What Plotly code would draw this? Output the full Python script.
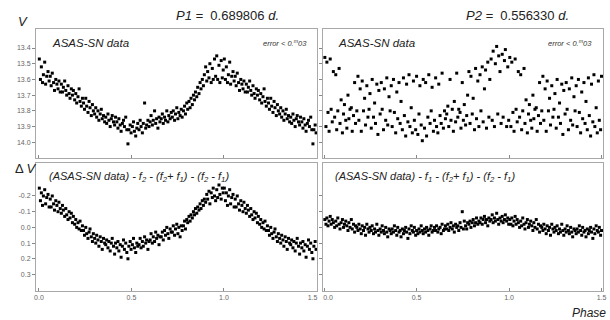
import plotly.graph_objects as go

# ---------------- data ----------------
# phases folded with P1 (observations shared by top-left and bottom-left panels)
phase_p1 = [
    0.002, 0.008, 0.013, 0.019, 0.024, 0.031, 0.036, 0.042, 0.049, 0.055,
    0.061, 0.066, 0.072, 0.079, 0.084, 0.091, 0.097, 0.103, 0.108, 0.115,
    0.121, 0.127, 0.132, 0.139, 0.145, 0.150, 0.157, 0.163, 0.168, 0.175,
    0.181, 0.186, 0.193, 0.199, 0.204, 0.211, 0.217, 0.222, 0.229, 0.235,
    0.241, 0.246, 0.253, 0.258, 0.265, 0.271, 0.276, 0.283, 0.289, 0.294,
    0.301, 0.307, 0.312, 0.319, 0.324, 0.331, 0.337, 0.342, 0.349, 0.355,
    0.361, 0.366, 0.373, 0.378, 0.385, 0.391, 0.396, 0.403, 0.409, 0.414,
    0.421, 0.427, 0.432, 0.439, 0.444, 0.451, 0.457, 0.462, 0.469, 0.475,
    0.481, 0.486, 0.493, 0.498, 0.505, 0.511, 0.516, 0.523, 0.529, 0.534,
    0.541, 0.547, 0.552, 0.559, 0.564, 0.571, 0.577, 0.582, 0.589, 0.595,
    0.601, 0.606, 0.613, 0.618, 0.625, 0.631, 0.636, 0.643, 0.649, 0.654,
    0.661, 0.667, 0.672, 0.679, 0.684, 0.691, 0.697, 0.702, 0.709, 0.715,
    0.721, 0.726, 0.733, 0.738, 0.745, 0.751, 0.756, 0.763, 0.769, 0.774,
    0.781, 0.787, 0.792, 0.799, 0.804, 0.811, 0.817, 0.822, 0.829, 0.835,
    0.841, 0.846, 0.853, 0.858, 0.865, 0.871, 0.876, 0.883, 0.889, 0.894,
    0.901, 0.907, 0.912, 0.919, 0.924, 0.931, 0.937, 0.942, 0.949, 0.955,
    0.961, 0.966, 0.973, 0.978, 0.985, 0.991, 0.996,
]
v_p1 = [
    13.47, 13.60, 13.52, 13.62, 13.57, 13.49, 13.63, 13.58, 13.55, 13.61,
    13.58, 13.64, 13.56, 13.62, 13.67, 13.60, 13.63, 13.66, 13.61, 13.68,
    13.63, 13.68, 13.65, 13.61, 13.67, 13.70, 13.64, 13.69, 13.72, 13.66,
    13.70, 13.67, 13.73, 13.69, 13.75, 13.71, 13.66, 13.74, 13.77, 13.72,
    13.75, 13.79, 13.72, 13.77, 13.81, 13.74, 13.78, 13.83, 13.76, 13.80,
    13.82, 13.78, 13.84, 13.80, 13.86, 13.82, 13.79, 13.85, 13.83, 13.87,
    13.84, 13.88, 13.82, 13.86, 13.90, 13.85, 13.83, 13.87, 13.89, 13.84,
    13.87, 13.91, 13.85, 13.89, 13.93, 13.88, 13.86, 13.90, 13.84, 13.92,
    14.01, 13.92, 13.89, 13.94, 13.90, 13.87, 13.93, 13.96, 13.91, 13.88,
    13.92, 13.86, 13.90, 13.94, 13.88, 13.75, 13.91, 13.89, 13.86, 13.90,
    13.87, 13.83, 13.89, 13.86, 13.80, 13.88, 13.85, 13.91, 13.84, 13.87,
    13.85, 13.82, 13.88, 13.84, 13.86, 13.80, 13.87, 13.83, 13.85, 13.81,
    13.84, 13.80, 13.86, 13.82, 13.78, 13.85, 13.81, 13.83, 13.79, 13.84,
    13.80, 13.77, 13.82, 13.75, 13.79, 13.74, 13.78, 13.72, 13.76, 13.70,
    13.73, 13.68, 13.71, 13.65, 13.69, 13.62, 13.66, 13.60, 13.64, 13.57,
    13.52, 13.61, 13.55, 13.59, 13.50, 13.62, 13.53, 13.60, 13.47, 13.58,
    13.45, 13.60, 13.51, 13.62, 13.48, 13.59, 13.54,
]
dv_p1 = [
    -0.25, -0.17, -0.22, -0.14, -0.20, -0.24, -0.15, -0.19, -0.21, -0.13,
    -0.18, -0.13, -0.20, -0.15, -0.11, -0.17, -0.14, -0.10, -0.16, -0.12,
    -0.09, -0.14, -0.11, -0.07, -0.12, -0.08, -0.05, -0.10, -0.06, -0.09,
    -0.03, -0.07, -0.02, -0.05, 0.00, -0.03, 0.01, -0.04, 0.02, -0.01,
    0.02, 0.05, 0.00, 0.04, 0.07, 0.03, 0.01, 0.06, 0.09, 0.04,
    0.07, 0.10, 0.05, 0.08, 0.12, 0.06, 0.09, 0.14, 0.07, 0.10,
    0.11, 0.08, 0.13, 0.09, 0.15, 0.10, 0.07, 0.12, 0.17, 0.10,
    0.13, 0.09, 0.15, 0.11, 0.19, 0.12, 0.08, 0.14, 0.10, 0.16,
    0.20, 0.12, 0.09, 0.14, 0.11, 0.07, 0.13, 0.16, 0.10, 0.12,
    0.11, 0.07, 0.13, 0.09, 0.12, 0.06, 0.10, 0.08, 0.14, 0.09,
    0.08, 0.04, 0.10, 0.06, 0.09, 0.03, 0.07, 0.05, 0.11, 0.06,
    0.06, 0.03, 0.08, 0.02, 0.05, 0.00, 0.04, 0.07, 0.01, 0.03,
    0.03, -0.01, 0.05, 0.01, -0.02, 0.04, 0.00, 0.06, -0.01, 0.02,
    -0.01, -0.04, 0.01, -0.05, -0.03, -0.07, -0.04, -0.08, -0.06, -0.10,
    -0.08, -0.12, -0.09, -0.13, -0.11, -0.15, -0.12, -0.17, -0.14, -0.18,
    -0.16, -0.21, -0.18, -0.23, -0.15, -0.22, -0.19, -0.25, -0.20, -0.17,
    -0.24, -0.19, -0.27, -0.21, -0.18, -0.25, -0.22,
]

# phases folded with P2 (observations shared by top-right and bottom-right panels)
phase_p2 = [
    0.004, 0.010, 0.015, 0.021, 0.027, 0.033, 0.038, 0.044, 0.050, 0.057,
    0.063, 0.068, 0.074, 0.081, 0.086, 0.092, 0.099, 0.105, 0.110, 0.117,
    0.123, 0.129, 0.134, 0.140, 0.147, 0.152, 0.159, 0.165, 0.170, 0.177,
    0.183, 0.188, 0.195, 0.201, 0.206, 0.213, 0.219, 0.224, 0.231, 0.237,
    0.243, 0.248, 0.255, 0.260, 0.267, 0.273, 0.278, 0.285, 0.291, 0.296,
    0.303, 0.309, 0.314, 0.321, 0.326, 0.333, 0.339, 0.344, 0.351, 0.357,
    0.363, 0.368, 0.375, 0.380, 0.387, 0.393, 0.398, 0.405, 0.411, 0.416,
    0.423, 0.429, 0.434, 0.441, 0.446, 0.453, 0.459, 0.464, 0.471, 0.477,
    0.483, 0.488, 0.495, 0.500, 0.507, 0.513, 0.518, 0.525, 0.531, 0.536,
    0.543, 0.549, 0.554, 0.561, 0.566, 0.573, 0.579, 0.584, 0.591, 0.597,
    0.603, 0.608, 0.615, 0.620, 0.627, 0.633, 0.638, 0.645, 0.651, 0.656,
    0.663, 0.669, 0.674, 0.681, 0.686, 0.693, 0.699, 0.704, 0.711, 0.717,
    0.723, 0.728, 0.735, 0.740, 0.747, 0.753, 0.758, 0.765, 0.771, 0.776,
    0.783, 0.789, 0.794, 0.801, 0.806, 0.813, 0.819, 0.824, 0.831, 0.837,
    0.843, 0.848, 0.855, 0.860, 0.867, 0.873, 0.878, 0.885, 0.891, 0.896,
    0.903, 0.909, 0.914, 0.921, 0.926, 0.933, 0.939, 0.944, 0.951, 0.957,
    0.963, 0.968, 0.975, 0.980, 0.987, 0.993, 0.998,
]
v_p2 = [
    13.46, 13.90, 13.49, 13.81, 13.93, 13.47, 13.79, 13.87, 13.55, 13.84,
    13.57, 13.92, 13.80, 13.53, 13.88, 13.73, 13.94, 13.82, 13.76, 13.86,
    13.91, 13.70, 13.85, 13.79, 13.78, 13.93, 13.83, 13.62, 13.88, 13.80,
    13.58, 13.86, 13.66, 13.93, 13.61, 13.80, 13.72, 13.89, 13.64, 13.84,
    13.79, 13.69, 13.91, 13.60, 13.84, 13.75, 13.88, 13.63, 13.95, 13.67,
    13.82, 13.62, 13.79, 13.92, 13.66, 13.86, 13.59, 13.89, 13.71, 13.80,
    13.64, 13.90, 13.60, 13.81, 13.94, 13.68, 13.85, 13.62, 13.88, 13.74,
    13.92, 13.59, 13.83, 13.96, 13.63, 13.87, 13.57, 13.90, 13.78, 13.94,
    13.61, 13.86, 13.92, 13.58, 13.95, 13.82, 13.64, 13.89, 13.99, 13.60,
    13.91, 13.62, 13.96, 13.84, 13.57, 13.88, 13.80, 13.65, 13.93, 13.86,
    13.59, 13.90, 13.94, 13.63, 13.83, 13.88, 13.56, 13.91, 13.80, 13.85,
    13.82, 13.77, 13.90, 13.60, 13.86, 13.79, 13.93, 13.74, 13.87, 13.56,
    13.84, 13.79, 13.81, 13.91, 13.62, 13.86, 13.76, 13.89, 13.83, 13.70,
    13.55, 13.88, 13.58, 13.82, 13.72, 13.92, 13.53, 13.85, 13.61, 13.90,
    13.57, 13.80, 13.52, 13.87, 13.66, 13.54, 13.91, 13.49, 13.84, 13.60,
    13.47, 13.86, 13.42, 13.90, 13.50, 13.39, 13.82, 13.45, 13.55, 13.88,
    13.44, 13.84, 13.48, 13.41, 13.90, 13.52, 13.86,
]
dv_p2 = [
    -0.05, -0.02, -0.06, -0.01, -0.04, -0.07, -0.02, -0.05, -0.03, 0.00,
    -0.04, -0.01, -0.06, -0.02, 0.01, -0.03, -0.05, 0.00, -0.02, -0.04,
    -0.01, 0.02, -0.03, 0.00, -0.05, 0.01, -0.02, 0.03, -0.01, 0.00,
    0.02, -0.02, 0.01, 0.04, -0.01, 0.02, 0.00, 0.05, -0.02, 0.01,
    0.03, 0.00, 0.02, -0.01, 0.04, 0.01, 0.03, -0.02, 0.02, 0.05,
    0.01, 0.03, -0.01, 0.02, 0.04, 0.00, 0.03, 0.06, 0.01, 0.02,
    0.04, 0.01, 0.03, -0.01, 0.02, 0.05, 0.00, 0.03, 0.02, 0.06,
    0.01, 0.04, 0.02, 0.00, 0.03, 0.07, 0.01, 0.04, -0.01, 0.02,
    0.03, 0.00, 0.05, 0.02, 0.04, 0.01, 0.03, -0.01, 0.02, 0.04,
    0.01, 0.03, 0.00, 0.02, 0.05, 0.01, -0.01, 0.03, 0.02, 0.00,
    0.02, -0.01, 0.03, 0.01, 0.00, 0.04, -0.02, 0.02, 0.01, -0.01,
    0.01, -0.02, 0.02, 0.00, -0.03, 0.01, -0.01, 0.03, -0.02, 0.00,
    -0.01, 0.02, -0.03, 0.00, -0.10, 0.01, -0.04, -0.01, 0.01, -0.03,
    -0.02, -0.04, 0.00, -0.03, -0.05, -0.01, -0.03, -0.06, -0.02, -0.04,
    -0.03, -0.06, -0.02, -0.05, -0.07, -0.03, -0.05, -0.01, -0.06, -0.04,
    -0.05, -0.08, -0.03, -0.06, -0.04, -0.09, -0.05, -0.02, -0.06, -0.04,
    -0.07, -0.03, -0.05, -0.08, -0.04, -0.06, -0.02,
]

NB = "\u00a0"
x_ticks = [0.0, 0.5, 1.0, 1.5]
x_tick_labels_left = ["0.0", "0.5", "1.0", "1.5" + NB * 4]
x_tick_labels_right = [NB * 4 + "0.0", "0.5", "1.0", "1.5"]
v_ticks = [13.4, 13.5, 13.6, 13.7, 13.8, 13.9, 14.0]
v_tick_labels = ["13.4", "13.5", "13.6", "13.7", "13.8", "13.9", "14.0"]
dv_ticks = [-0.2, -0.1, 0.0, 0.1, 0.2, 0.3]
dv_tick_labels = ["-0.2", "-0.1", "0.0", "0.1", "0.2", "0.3"]


def fold(phases, values):
    """Phase diagram shown over 1.5 cycles: phases 0..0.5 are repeated at 1..1.5."""
    xs, ys = list(phases), list(values)
    for p, v in zip(phases, values):
        if p <= 0.5:
            xs.append(p + 1.0)
            ys.append(v)
    return xs, ys


FONT = "Liberation Sans, Arial, sans-serif"
W, H = 610, 320


def px(x):
    return x / W


def py(y):
    return 1 - y / H


fig = go.Figure()
marker = dict(symbol="square", size=3, color="black", line=dict(width=0))
panels = [
    (phase_p1, v_p1, "x", "y"),
    (phase_p2, v_p2, "x2", "y2"),
    (phase_p1, dv_p1, "x3", "y3"),
    (phase_p2, dv_p2, "x4", "y4"),
]
for ph, vals, xa, ya in panels:
    xs, ys = fold(ph, vals)
    fig.add_trace(go.Scatter(x=xs, y=ys, mode="markers", marker=marker,
                             xaxis=xa, yaxis=ya, showlegend=False,
                             hoverinfo="skip"))

col_l = [px(36), px(317)]
col_r = [px(323), px(603)]
row_t = [py(158), py(29)]
row_b = [py(291), py(163)]

ax_common = dict(showline=True, linecolor="#a8a8a8", linewidth=1, mirror=True,
                 showgrid=False, zeroline=False, automargin=False,
                 tickcolor="#888", ticklen=3, tickwidth=1,
                 tickfont=dict(family=FONT, size=7, color="#666"))


def xax(domain, rng, anchor, labels, tt):
    return dict(ax_common, domain=domain, range=rng, anchor=anchor,
                tickmode="array", tickvals=x_ticks, ticktext=tt,
                ticks="inside", showticklabels=labels)


def yax(domain, rng, anchor, tv, tt, labels):
    return dict(ax_common, domain=domain, range=rng, anchor=anchor,
                tickmode="array", tickvals=tv, ticktext=tt, ticks="outside",
                showticklabels=labels)


fig.update_layout(
    template="none",
    width=W, height=H,
    margin=dict(l=0, r=0, t=0, b=0, pad=0),
    paper_bgcolor="white", plot_bgcolor="white",
    xaxis=xax(col_l, [-0.016, 1.503], "y", False, x_tick_labels_left),
    xaxis2=xax(col_r, [-0.006, 1.508], "y2", False, x_tick_labels_right),
    xaxis3=xax(col_l, [-0.016, 1.503], "y3", True, x_tick_labels_left),
    xaxis4=xax(col_r, [-0.006, 1.508], "y4", True, x_tick_labels_right),
    yaxis=yax(row_t, [14.10, 13.279], "x", v_ticks, v_tick_labels, True),
    yaxis2=yax(row_t, [14.10, 13.279], "x2", v_ticks, v_tick_labels, False),
    yaxis3=yax(row_b, [0.405, -0.41], "x3", dv_ticks, dv_tick_labels, True),
    yaxis4=yax(row_b, [0.405, -0.41], "x4", dv_ticks, dv_tick_labels, False),
)


def note(x, y, text, size, xanchor="center", color="#222"):
    fig.add_annotation(x=px(x), y=py(y), xref="paper", yref="paper", text=text,
                       showarrow=False, xanchor=xanchor, yanchor="middle",
                       font=dict(family=FONT, size=size, color=color))


note(23, 21, "<i>V</i>", 13)
note(227, 15, "<i>P1 = </i> 0.689806 <i>d.</i>", 13)
note(517, 15, "<i>P2 = </i> 0.556330 <i>d.</i>", 13)
note(26, 168, "Δ <i>V</i>", 13)
note(589, 313, "<i>Phase</i>", 12)
note(50, 43, "<i>ASAS-SN data</i>", 11.5, "left")
note(336, 43, "<i>ASAS-SN data</i>", 11.5, "left")
note(309, 43, "<i>error &lt; 0.<sup>m</sup>03</i>", 7.5, "right", "#333")
note(594, 43, "<i>error &lt; 0.<sup>m</sup>03</i>", 7.5, "right", "#333")
lbl_l = "<i>(ASAS-SN data) - f<sub>2</sub> - (f<sub>2</sub>+ f<sub>1</sub>) - (f<sub>2</sub> - f<sub>1</sub>)</i>"
lbl_r = "<i>(ASAS-SN data) - f<sub>1</sub> - (f<sub>2</sub>+ f<sub>1</sub>) - (f<sub>2</sub> - f<sub>1</sub>)</i>"
note(47, 177, lbl_l, 11, "left")
note(333, 177, lbl_r, 11, "left")

fig.write_html("out.html", config={"displayModeBar": False},
               post_script="document.body.style.margin='0px';")
